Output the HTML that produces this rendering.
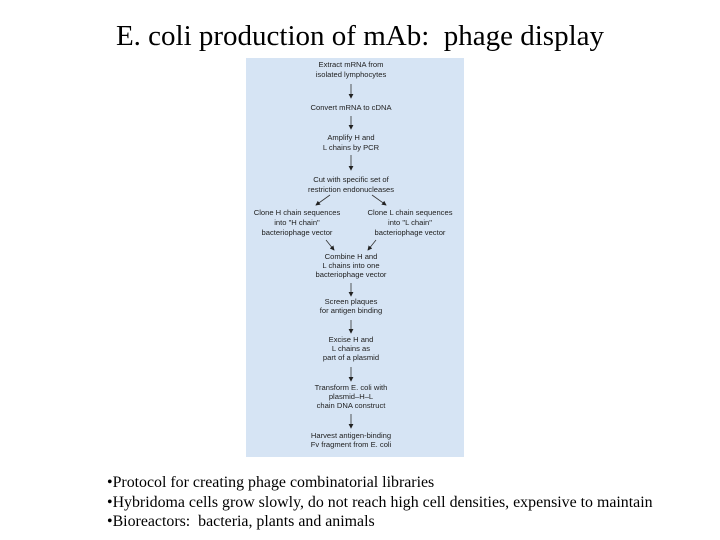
<!DOCTYPE html>
<html><head><meta charset="utf-8"><style>
html,body{margin:0;padding:0;background:#fff;}
body{width:720px;height:540px;position:relative;overflow:hidden;}
.t{position:absolute;left:0;width:720px;text-align:center;top:20px;font:29px "Liberation Serif",serif;color:#000;}
.b{position:absolute;left:107px;font:15.9px "Liberation Serif",serif;color:#000;white-space:nowrap;}
svg{position:absolute;left:0;top:0;}
svg text{font-family:"Liberation Sans",sans-serif;font-size:7.6px;fill:#222;text-anchor:middle;}
</style></head><body>
<div class="t">E. coli production of mAb:&nbsp; phage display</div>
<svg width="720" height="540">
<defs><marker id="a" markerWidth="6" markerHeight="6" refX="5" refY="3" orient="auto"><path d="M0,0 L6,3 L0,6 Z" fill="#222"/></marker></defs>
<rect x="246" y="58" width="218" height="399" fill="#d6e4f4"/>
<g stroke="#333" stroke-width="0.8" marker-end="url(#a)">
<line x1="351" y1="84" x2="351" y2="98"/>
<line x1="351" y1="116" x2="351" y2="129"/>
<line x1="351" y1="155" x2="351" y2="170"/>
<line x1="330" y1="195" x2="316" y2="205"/>
<line x1="372" y1="195" x2="386" y2="205"/>
<line x1="326" y1="240" x2="334" y2="250"/>
<line x1="376" y1="240" x2="368" y2="250"/>
<line x1="351" y1="283" x2="351" y2="296"/>
<line x1="351" y1="320" x2="351" y2="333"/>
<line x1="351" y1="367" x2="351" y2="381"/>
<line x1="351" y1="414" x2="351" y2="428"/>
</g>
<text x="351" y="67">Extract mRNA from</text>
<text x="351" y="77">isolated lymphocytes</text>
<text x="351" y="110">Convert mRNA to cDNA</text>
<text x="351" y="140">Amplify H and</text>
<text x="351" y="150">L chains by PCR</text>
<text x="351" y="182">Cut with specific set of</text>
<text x="351" y="192">restriction endonucleases</text>
<text x="297" y="215">Clone H chain sequences</text>
<text x="297" y="225">into "H chain"</text>
<text x="297" y="235">bacteriophage vector</text>
<text x="410" y="215">Clone L chain sequences</text>
<text x="410" y="225">into "L chain"</text>
<text x="410" y="235">bacteriophage vector</text>
<text x="351" y="259">Combine H and</text>
<text x="351" y="268">L chains into one</text>
<text x="351" y="277">bacteriophage vector</text>
<text x="351" y="304">Screen plaques</text>
<text x="351" y="313">for antigen binding</text>
<text x="351" y="342">Excise H and</text>
<text x="351" y="351">L chains as</text>
<text x="351" y="360">part of a plasmid</text>
<text x="351" y="390">Transform E. coli with</text>
<text x="351" y="399">plasmid–H–L</text>
<text x="351" y="408">chain DNA construct</text>
<text x="351" y="438">Harvest antigen-binding</text>
<text x="351" y="447">Fv fragment from E. coli</text>
</svg>
<div class="b" style="top:474px">•Protocol for creating phage combinatorial libraries</div>
<div class="b" style="top:494px">•Hybridoma cells grow slowly, do not reach high cell densities, expensive to maintain</div>
<div class="b" style="top:513px">•Bioreactors:&nbsp; bacteria, plants and animals</div>
</body></html>
